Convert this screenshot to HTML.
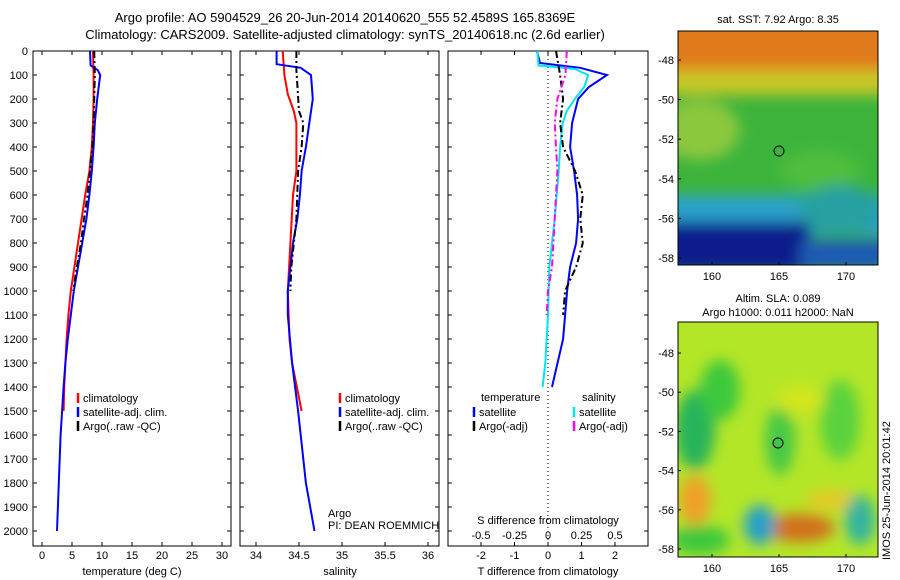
<!DOCTYPE html>
<html><head><meta charset="utf-8"><style>
body{margin:0;background:#fff}
svg{display:block;font-family:"Liberation Sans",sans-serif}
text{fill:#000}
</style></head><body>
<svg id="fig" width="900" height="580" viewBox="0 0 900 580">
<defs>
<filter id="bl" x="-50%" y="-50%" width="200%" height="200%"><feGaussianBlur stdDeviation="7"/></filter>
<clipPath id="c1"><rect x="678" y="31" width="200" height="234"/></clipPath>
<clipPath id="c2"><rect x="678" y="322" width="200" height="235"/></clipPath>
</defs>
<text x="345" y="22" font-size="13" text-anchor="middle">Argo profile: AO 5904529_26 20-Jun-2014 20140620_555 52.4589S 165.8369E</text>
<text x="345" y="39" font-size="13" text-anchor="middle">Climatology: CARS2009. Satellite-adjusted climatology: synTS_20140618.nc (2.6d earlier)</text>
<g id="p1"></g>
<g id="p2"></g>
<g id="p3"></g>

<g>
<g clip-path="url(#c1)">
<rect x="678" y="31" width="200" height="234" fill="#3cb43c"/>
<g filter="url(#bl)">
<rect x="660" y="20" width="240" height="55" fill="#e07a1e"/>
<rect x="660" y="70" width="240" height="25" fill="#c8c828"/>
<ellipse cx="700" cy="130" rx="40" ry="30" fill="#8cc83c"/>
<ellipse cx="820" cy="170" rx="40" ry="20" fill="#50be3c"/>
<rect x="660" y="195" width="240" height="40" fill="#2ca0c8"/>
<ellipse cx="840" cy="210" rx="40" ry="25" fill="#28a0a0"/>
<rect x="660" y="222" width="150" height="50" fill="#0a1e8c"/>
<rect x="800" y="240" width="90" height="30" fill="#1e5ab4"/>
</g>
</g>
<rect x="678" y="31" width="200" height="234" fill="none" stroke="#000"/>
<circle cx="779" cy="151" r="5" fill="none" stroke="#000"/>
</g>
<g>
<g clip-path="url(#c2)">
<rect x="678" y="322" width="200" height="235" fill="#b4e628"/>
<g filter="url(#bl)">
<ellipse cx="695" cy="430" rx="20" ry="40" fill="#28b45a"/>
<ellipse cx="720" cy="390" rx="20" ry="30" fill="#3cc83c"/>
<ellipse cx="780" cy="440" rx="15" ry="35" fill="#46c846"/>
<ellipse cx="840" cy="420" rx="20" ry="40" fill="#5ad23c"/>
<ellipse cx="800" cy="400" rx="25" ry="15" fill="#d2e61e"/>
<ellipse cx="695" cy="500" rx="16" ry="25" fill="#f0a028"/>
<ellipse cx="800" cy="528" rx="35" ry="14" fill="#d26e1e"/>
<ellipse cx="830" cy="500" rx="25" ry="10" fill="#e6c828"/>
<ellipse cx="760" cy="525" rx="16" ry="20" fill="#28a0c8"/>
<ellipse cx="860" cy="520" rx="15" ry="25" fill="#32b4a0"/>
<ellipse cx="700" cy="540" rx="30" ry="15" fill="#3cc83c"/>
</g>
</g>
<rect x="678" y="322" width="200" height="235" fill="none" stroke="#000"/>
<circle cx="778" cy="443" r="5" fill="#3cc83c" stroke="#000"/>
</g>
<text x="778" y="23" font-size="11" text-anchor="middle">sat. SST: 7.92 Argo: 8.35</text>
<text x="778" y="302" font-size="11" text-anchor="middle">Altim. SLA: 0.089</text>
<text x="778" y="316" font-size="11" text-anchor="middle">Argo h1000: 0.011 h2000: NaN</text>
<text transform="translate(890,560) rotate(-90)" font-size="11">IMOS 25-Jun-2014 20:01:42</text>
</svg>
<script>
// temperature panel data
const tDepRed=[0,100,200,300,400,500,600,700,800,900,1000,1100,1200,1300,1400,1500];
const tRed=[8.5,8.6,8.6,8.5,8.3,7.9,7.2,6.6,6.0,5.4,4.8,4.4,4.1,3.9,3.7,3.6];
const tDepBlue=[0,60,80,100,200,300,400,500,600,700,800,900,1000,1100,1200,1300,1400,1600,1800,2000];
const tBlue=[8,8.1,9.3,9.7,9.2,8.8,8.6,8.3,7.9,7.4,6.7,6.0,5.3,4.8,4.3,3.9,3.6,3.1,2.8,2.5];
const tDepArgo=[0,100,200,300,400,500,600,700,800,900,1000];
const tArgo=[8.7,8.8,8.7,8.6,8.4,8.0,7.6,7.0,6.5,5.8,5.2];
// salinity panel data
const sDepRed=[0,100,180,250,300,500,600,800,1000,1200,1300,1500];
const sRed=[34.31,34.33,34.37,34.44,34.47,34.47,34.43,34.40,34.37,34.39,34.42,34.53];
const sDepBlue=[0,55,70,100,200,300,400,500,600,700,800,900,1000,1100,1300,1500,1800,2000];
const sBlue=[34.24,34.24,34.52,34.64,34.66,34.62,34.58,34.53,34.51,34.48,34.43,34.40,34.37,34.37,34.42,34.49,34.58,34.68];
const sDepArgo=[0,80,250,300,400,500,700,900,1000];
const sArgo=[34.47,34.47,34.50,34.55,34.53,34.49,34.47,34.41,34.40];
// difference panel data
const dDepTsat=[0,50,70,100,150,200,300,400,500,600,700,800,900,1000,1100,1200,1400];
const dTsat=[-0.33,-0.24,0.96,1.76,1.22,0.90,0.72,0.66,0.78,0.87,0.90,0.84,0.66,0.57,0.51,0.45,0.12];
const dDepSsat=[0,60,75,100,150,200,250,300,400,500,700,900,1100,1300,1400];
const dSsat=[-0.08,-0.07,0.20,0.30,0.27,0.20,0.14,0.11,0.09,0.08,0.05,0.01,0,-0.02,-0.04];
const dDepArgo=[0,100,200,300,400,500,600,700,800,900,1000,1100];
const dTargo=[0.24,0.36,0.45,0.36,0.45,0.81,1.04,0.96,1.04,0.84,0.51,0.45];
const dSargo=[0.14,0.13,0.07,0.05,0.06,0.07,0.06,0.05,0.04,0.03,0,-0.01];
const depthTicks=[0,100,200,300,400,500,600,700,800,900,1000,1100,1200,1300,1400,1500,1600,1700,1800,1900,2000];
const tTicks=[0,5,10,15,20,25,30];
const sTicks=[34,34.5,35,35.5,36];
const dTTicks=[-2,-1,0,1,2];
const dSTicks=[-0.5,-0.25,0,0.25,0.5];
const dSTickLabels=["-0.5","-0.25","0","0.25","0.5"];

const NS="http://www.w3.org/2000/svg";
const TOP=51,BOT=546;
const yD=d=>TOP+d*0.24;
function mk(tag,attrs,parent){const e=document.createElementNS(NS,tag);for(const k in attrs)e.setAttribute(k,attrs[k]);parent.appendChild(e);return e;}
const xT=v=>42+6*v, xS=v=>256+86*(v-34), xDT=v=>548+33.5*v, xDS=v=>548+134*v;

function frame(g,x0,x1,showY){
  const r=mk('rect',{x:x0,y:TOP,width:x1-x0,height:BOT-TOP,fill:'none',stroke:'#000'},g);
  
  
  depthTicks.forEach(d=>{
    mk('line',{x1:x0,x2:x0+4,y1:yD(d),y2:yD(d),stroke:'#000'},g);
    mk('line',{x1:x1,x2:x1-4,y1:yD(d),y2:yD(d),stroke:'#000'},g);
    if(showY){const t=mk('text',{x:x0-5,y:yD(d)+4,'font-size':11,'text-anchor':'end'},g);t.textContent=d;
      
      }
  });
}
function xticks(g,ticks,labels,fx,ylab){
  ticks.forEach((v,i)=>{const x=fx(v);
    mk('line',{x1:x,x2:x,y1:BOT,y2:BOT-4,stroke:'#000'},g);
    mk('line',{x1:x,x2:x,y1:TOP,y2:TOP+4,stroke:'#000'},g);
    const t=mk('text',{x:x,y:ylab,'font-size':11,'text-anchor':'middle'},g);t.textContent=labels[i];
    
    
  });
}
function line(g,deps,vals,fx,color,name,dash,w){
  const p=mk('polyline',{points:deps.map((d,i)=>fx(vals[i]).toFixed(1)+','+yD(d).toFixed(1)).join(' '),fill:'none',stroke:color,'stroke-width':w||2},g);
  if(dash)p.setAttribute('stroke-dasharray',dash);
  
  
}
function txt(g,x,y,s,name,anchor){const t=mk('text',{x:x,y:y,'font-size':11,'text-anchor':anchor||'start'},g);t.textContent=s;
  
  }
function leg(g,x,y,color,s,name){mk('line',{x1:x,x2:x,y1:y-9,y2:y+1,stroke:color,'stroke-width':2.5},g);txt(g,x+5,y,s,name);}

const g1=document.getElementById('p1');
frame(g1,33,231,true);
xticks(g1,tTicks,tTicks.map(String),xT,559);
line(g1,tDepRed,tRed,xT,'#f00','climatology-temp-line');
line(g1,tDepBlue,tBlue,xT,'#00f','satellite-temp-line');
line(g1,tDepArgo,tArgo,xT,'#000','argo-temp-line','7,3,2,3');
txt(g1,132,575,'temperature (deg C)','x-axis-title-temperature','middle');
leg(g1,78,402,'#f00','climatology','legend-climatology');
leg(g1,78,416,'#00f','satellite-adj. clim.','legend-satellite');
leg(g1,78,430,'#000','Argo(..raw -QC)','legend-argo');

const g2=document.getElementById('p2');
frame(g2,240,439,false);
xticks(g2,sTicks,sTicks.map(String),xS,559);
line(g2,sDepRed,sRed,xS,'#f00','climatology-salinity-line');
line(g2,sDepBlue,sBlue,xS,'#00f','satellite-salinity-line');
line(g2,sDepArgo,sArgo,xS,'#000','argo-salinity-line','7,3,2,3');
txt(g2,340,575,'salinity','x-axis-title-salinity','middle');
leg(g2,340,402,'#f00','climatology','legend-climatology');
leg(g2,340,416,'#00f','satellite-adj. clim.','legend-satellite');
leg(g2,340,430,'#000','Argo(..raw -QC)','legend-argo');
txt(g2,328,517,'Argo','argo-label');
txt(g2,328,529,'PI: DEAN ROEMMICH','pi-label');

const g3=document.getElementById('p3');
frame(g3,448,648,false);
xticks(g3,dTTicks,dTTicks.map(String),xDT,559);
dSTicks.forEach((v,i)=>{const t=mk('text',{x:xDS(v),y:539,'font-size':11,'text-anchor':'middle'},g3);t.textContent=dSTickLabels[i];
  
  });
mk('line',{x1:548,x2:548,y1:TOP,y2:BOT,stroke:'#000','stroke-dasharray':'1,3'},g3);
line(g3,dDepTsat,dTsat,xDT,'#00f','t-diff-satellite-line');
line(g3,dDepSsat,dSsat,xDS,'#00e5ee','s-diff-satellite-line');
line(g3,dDepArgo,dTargo,xDT,'#000','t-diff-argo-line','7,3,2,3');
line(g3,dDepArgo,dSargo,xDS,'#f0f','s-diff-argo-line','7,3,2,3');
txt(g3,548,524,'S difference from climatology','s-diff-axis-title','middle');
txt(g3,548,575,'T difference from climatology','t-diff-axis-title','middle');
txt(g3,481,401,'temperature','legend-temperature-heading');
txt(g3,582,401,'salinity','legend-salinity-heading');
leg(g3,474,416,'#00f','satellite','legend-t-satellite');
leg(g3,474,430,'#000','Argo(-adj)','legend-t-argo');
leg(g3,574,416,'#00e5ee','satellite','legend-s-satellite');
leg(g3,574,430,'#f0f','Argo(-adj)','legend-s-argo');

// map axes
const svg=document.getElementById('fig');
const lonTicks=[160,165,170], latTicks=[-48,-50,-52,-54,-56,-58];
[[31,60,258,265],[322,353,549,557]].forEach(([top,y48,y58,bot],k)=>{
  lonTicks.forEach(v=>{const x=712+13.4*(v-160);
    mk('line',{x1:x,x2:x,y1:bot,y2:bot-3,stroke:'#000'},svg);
    const t=mk('text',{x:x,y:bot+15,'font-size':11,'text-anchor':'middle'},svg);t.textContent=v;
    
    });
  latTicks.forEach(v=>{const y=y48+(y58-y48)*(-48-v)/10;
    mk('line',{x1:678,x2:681,y1:y,y2:y,stroke:'#000'},svg);
    const t=mk('text',{x:674,y:y+4,'font-size':11,'text-anchor':'end'},svg);t.textContent=v;
    
    });
});
</script>
</body></html>
